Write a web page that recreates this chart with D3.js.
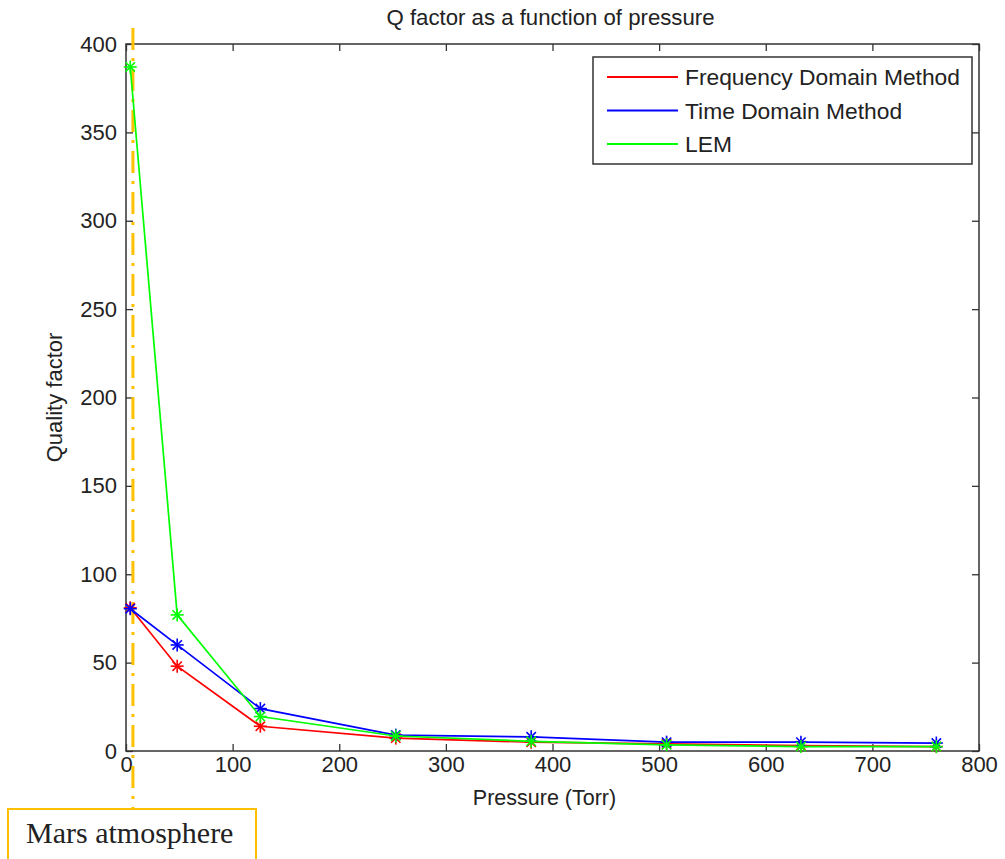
<!DOCTYPE html>
<html><head><meta charset="utf-8">
<script src="https://cdn.jsdelivr.net/npm/d3@7"></script>
<style>body{margin:0;background:#fff}svg{display:block}</style>
</head><body>
<script>
const pressure = [4, 48, 126, 253, 380, 507, 633, 760];
const freqDomain = [81, 48, 14, 7.3, 5, 4, 3, 2.5];
const timeDomain = [80.5, 60, 24, 9, 8, 5, 5, 4.5];
const lem = [387, 77, 19.5, 8.5, 5.5, 3.5, 2.5, 2.5];
const seriesNames = ["Frequency Domain Method", "Time Domain Method", "LEM"];
const seriesColors = ["#ff0000", "#0000ff", "#00ff00"];
const xTicks = [0, 100, 200, 300, 400, 500, 600, 700, 800];
const yTicks = [0, 50, 100, 150, 200, 250, 300, 350, 400];
const marsPressure = 6.5;

const W = 1005, H = 859;
const L = 126, R = 979, T = 44, B = 751;
const svg = d3.select("body").append("svg").attr("width", W).attr("height", H);
const x = d3.scaleLinear().domain([0, 800]).range([L, R]);
const y = d3.scaleLinear().domain([0, 400]).range([B, T]);
const font = "'Liberation Sans', Arial, sans-serif";

// frame
svg.append("rect").attr("x", L).attr("y", T).attr("width", R - L).attr("height", B - T)
  .attr("fill", "none").attr("stroke", "#333").attr("stroke-width", 1.5);

// axes
const xb = svg.append("g").attr("transform", `translate(0,${B})`)
  .call(d3.axisBottom(x).tickValues(xTicks).tickSize(-7).tickPadding(12).tickFormat(d3.format("d")));
const xt = svg.append("g").attr("transform", `translate(0,${T})`)
  .call(d3.axisTop(x).tickValues(xTicks).tickSize(-7).tickFormat(""));
const yl = svg.append("g").attr("transform", `translate(${L},0)`)
  .call(d3.axisLeft(y).tickValues(yTicks).tickSize(-7).tickPadding(9).tickFormat(d3.format("d")));
const yr = svg.append("g").attr("transform", `translate(${R},0)`)
  .call(d3.axisRight(y).tickValues(yTicks).tickSize(-7).tickFormat(""));
[xb, xt, yl, yr].forEach(g => {
  g.select(".domain").remove();
  g.selectAll(".tick line").attr("stroke", "#333").attr("stroke-width", 1.3);
  g.selectAll("text").attr("font-family", font).attr("font-size", 22).attr("fill", "#222");
});
xb.selectAll("text").attr("dy", "0.4em");

// title & labels
svg.append("text").attr("x", (L + R) / 2 - 2).attr("y", 25).attr("text-anchor", "middle")
  .attr("font-family", font).attr("font-size", 22.2).attr("fill", "#222")
  .text("Q factor as a function of pressure");
svg.append("text").attr("x", (L + R) / 2 - 8).attr("y", 805).attr("text-anchor", "middle")
  .attr("font-family", font).attr("font-size", 21.5).attr("fill", "#222")
  .text("Pressure (Torr)");
svg.append("text").attr("transform", `translate(62,${(T + B) / 2}) rotate(-90)`)
  .attr("text-anchor", "middle").attr("font-family", font).attr("font-size", 22).attr("fill", "#222")
  .text("Quality factor");

// Mars line
svg.append("line").attr("x1", x(marsPressure)).attr("x2", x(marsPressure))
  .attr("y1", 28).attr("y2", 809)
  .attr("stroke", "#ffc000").attr("stroke-width", 3).attr("stroke-dasharray", "22,8,3,8");

// series
const allSeries = [freqDomain, timeDomain, lem];
const line = d3.line().x((d, i) => x(pressure[i])).y(d => y(d));
allSeries.forEach((vals, si) => {
  const g = svg.append("g");
  g.append("path").datum(vals).attr("d", line).attr("fill", "none")
    .attr("stroke", seriesColors[si]).attr("stroke-width", 1.7);
  const s = 6.5;
  vals.forEach((v, i) => {
    const cx = x(pressure[i]), cy = y(v);
    const m = g.append("g").attr("transform", `translate(${cx},${cy})`)
      .attr("stroke", seriesColors[si]).attr("stroke-width", 1.6);
    m.append("line").attr("x1", -s).attr("x2", s).attr("y1", 0).attr("y2", 0);
    m.append("line").attr("x1", 0).attr("x2", 0).attr("y1", -s).attr("y2", s);
    const k = s * 0.72;
    m.append("line").attr("x1", -k).attr("x2", k).attr("y1", -k).attr("y2", k);
    m.append("line").attr("x1", -k).attr("x2", k).attr("y1", k).attr("y2", -k);
  });
});

// legend
const lg = svg.append("g");
lg.append("rect").attr("x", 593).attr("y", 57).attr("width", 379).attr("height", 107)
  .attr("fill", "#fff").attr("stroke", "#333").attr("stroke-width", 1.5);
seriesNames.forEach((n, i) => {
  const yy = 77 + i * 33.5;
  lg.append("line").attr("x1", 607).attr("x2", 678).attr("y1", yy).attr("y2", yy)
    .attr("stroke", seriesColors[i]).attr("stroke-width", 1.8);
  lg.append("text").attr("x", 685).attr("y", yy + 8).attr("font-family", font)
    .attr("font-size", 22.8).attr("fill", "#222").text(n);
});

// Mars annotation box
svg.append("rect").attr("x", 8).attr("y", 809).attr("width", 248).attr("height", 60)
  .attr("fill", "#fff").attr("stroke", "#ffc000").attr("stroke-width", 2);
svg.append("text").attr("x", 26).attr("y", 843).attr("font-family", "'Liberation Serif', serif")
  .attr("font-size", 30).attr("fill", "#222").text("Mars atmosphere");
</script>
</body></html>
